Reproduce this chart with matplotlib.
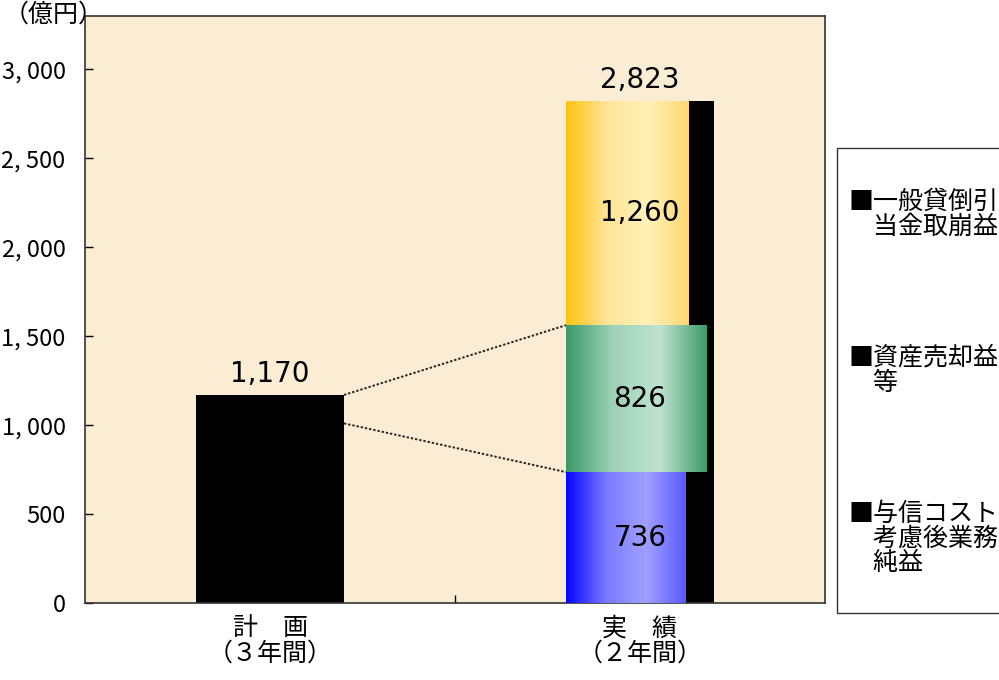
import numpy as np
import matplotlib.pyplot as plt
from matplotlib.colors import LinearSegmentedColormap
from matplotlib.patches import Rectangle

plt.rcParams['font.family'] = ['Noto Sans CJK JP', 'DejaVu Sans']

# データ（億円）
categories = ['計　画\n（３年間）', '実　績\n（２年間）']
plan_value = 1170
actual_total = 2823
segment_names = ['与信コスト考慮後業務純益', '資産売却益等', '一般貸倒引当金取崩益']
segment_values = [736, 826, 1260]
segment_labels = ['736', '826', '1,260']
yticks = [0, 500, 1000, 1500, 2000, 2500, 3000]
ytick_labels = ['0', '500', '1, 000', '1, 500', '2, 000', '2, 500', '3, 000']
legend_texts = ['■一般貸倒引\n　当金取崩益', '■資産売却益\n　等', '■与信コスト\n　考慮後業務\n　純益']

fig = plt.figure(figsize=(9.99, 6.8), dpi=100)
ax = fig.add_axes([0.0851, 0.1132, 0.7407, 0.8632])
ax.set_facecolor('#fbedd3')

x = np.arange(len(categories))

# 計画の棒と実績の合計（黒）
ax.bar(x[0], plan_value, width=0.4, color='black', zorder=2)
ax.bar(x[1], actual_total, width=0.4, color='black', zorder=2)

# 実績の内訳（グラデーション）
seg_widths = [0.324, 0.38, 0.33]
seg_cmaps = [
    ['#0505ff', '#7a7aff', '#a0a0ff', '#5a5aff'],
    ['#3a9a6a', '#9fd2b8', '#bfe3d0', '#3f9a6c'],
    ['#ffc412', '#ffe49a', '#fff1b8', '#ffd870'],
]
bottom = 0
grad = np.linspace(0, 1, 256).reshape(1, -1)
for val, w, cols in zip(segment_values, seg_widths, seg_cmaps):
    left = x[1] - 0.2
    bar = ax.bar(left, val, width=w, bottom=bottom, align='edge',
                 color=cols[0], zorder=3)[0]
    cmap = LinearSegmentedColormap.from_list('g', cols)
    im = ax.imshow(grad, cmap=cmap, aspect='auto', zorder=3.5,
                   extent=[bar.get_x(), bar.get_x() + bar.get_width(),
                           bottom, bottom + val])
    im.set_clip_path(bar)
    bottom += val

# 数値ラベル
ax.text(x[0], plan_value + 40, '1,170', ha='center', va='bottom',
        fontsize=20, family='DejaVu Sans', zorder=5)
ax.text(x[1], actual_total + 40, '2,823', ha='center', va='bottom',
        fontsize=20, family='DejaVu Sans', zorder=5)
bottom = 0
for val, lab in zip(segment_values, segment_labels):
    ax.text(x[1], bottom + val / 2, lab,
            ha='center', va='center', fontsize=20, family='DejaVu Sans', zorder=5)
    bottom += val

# 点線
ax.plot([x[0] + 0.2, x[1] - 0.2], [plan_value, segment_values[0] + segment_values[1]],
        color='#222222', ls=(0, (1.2, 1.0)), lw=1.4, zorder=4)
ax.plot([x[0] + 0.2, x[1] - 0.2], [1010, segment_values[0]],
        color='#222222', ls=(0, (1.2, 1.0)), lw=1.4, zorder=4)

ax.set_xlim(-0.5, 1.5)
ax.set_ylim(0, 3300)
ax.set_yticks(yticks)
ax.set_yticklabels(ytick_labels, fontsize=17)
ax.set_xticks([0.5])
ax.set_xticklabels([''])
ax.tick_params(axis='both', direction='in', length=6, width=1, pad=14)
for i, c in enumerate(categories):
    ax.text(x[i], -70, c, ha='center', va='top', fontsize=18, linespacing=0.95)
for s in ax.spines.values():
    s.set_color('#333333')
    s.set_linewidth(1.2)

fig.text(0.004, 0.998, '（億円）', fontsize=18, va='top', ha='left')

# 凡例ボックス
fig.patches.append(Rectangle((0.838, 0.098), 0.2, 0.684, transform=fig.transFigure,
                             facecolor='white', edgecolor='#333333', lw=1))
leg_y = [0.722, 0.493, 0.264]
for t, yy in zip(legend_texts, leg_y):
    fig.text(0.849, yy, t, fontsize=18, va='top', ha='left', linespacing=0.95)

fig.savefig('out.png', dpi=100)
